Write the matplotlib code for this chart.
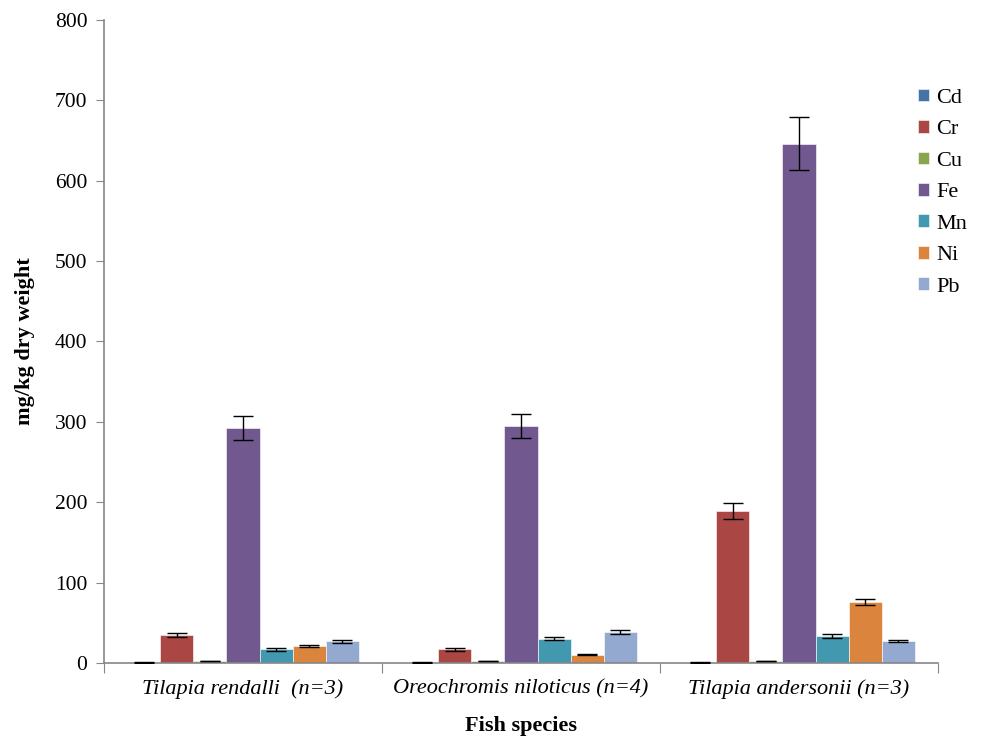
import numpy as np
import matplotlib
matplotlib.use('Agg')
import matplotlib.pyplot as plt

# mean metal concentrations (mg/kg dry weight) and standard errors per species
species = ['Tilapia rendalli  (n=3)', 'Oreochromis niloticus (n=4)', 'Tilapia andersonii (n=3)']
metals = ['Cd', 'Cr', 'Cu', 'Fe', 'Mn', 'Ni', 'Pb']
means = {
    'Cd': [0.5, 0.5, 0.5],
    'Cr': [35, 17, 189],
    'Cu': [2.5, 2.5, 2.5],
    'Fe': [292, 295, 646],
    'Mn': [17, 30, 33.5],
    'Ni': [21.5, 10.5, 76],
    'Pb': [27, 38.5, 27.5],
}
errors = {
    'Cd': [0.3, 0.3, 0.3],
    'Cr': [2.5, 1.5, 10],
    'Cu': [0.5, 0.5, 0.5],
    'Fe': [15, 15, 33],
    'Mn': [1.5, 2, 2],
    'Ni': [1.5, 0.8, 4],
    'Pb': [2, 2.5, 1.5],
}
colors = ['#4572A7', '#AA4643', '#89A54E', '#71588F', '#4198AF', '#DB843D', '#93A9CF']

plt.rcParams['font.family'] = ['Liberation Serif', 'DejaVu Serif']

fig = plt.figure(figsize=(9.82, 7.37), dpi=100)
ax = fig.add_axes([0.1059, 0.1004, 0.8493, 0.8725])

x = np.arange(len(species))
width = 1 / (len(metals) + 1.42)
for k, m in enumerate(metals):
    pos = x + (k - (len(metals) - 1) / 2) * width
    ax.bar(pos, means[m], width, color=colors[k], edgecolor='white', linewidth=0.4,
           label=m, zorder=2)
    ax.errorbar(pos, means[m], yerr=errors[m], fmt='none', ecolor='black',
                elinewidth=1, capsize=7, capthick=1, zorder=3)

ax.set_xlim(-0.5, len(species) - 0.5)
ax.set_ylim(0, 800)
ax.set_yticks(np.arange(0, 801, 100))
ax.tick_params(axis='y', labelsize=15.5, length=6, color='#868686', pad=6)

# category boundary ticks, labels centred under each group
ax.set_xticks(np.arange(-0.5, len(species), 1))
ax.set_xticklabels([])
ax.set_xticks(x, minor=True)
ax.set_xticklabels(species, minor=True, fontsize=16, style='italic')
ax.tick_params(axis='x', which='major', length=7, color='#868686')
ax.tick_params(axis='x', which='minor', length=0, pad=12)

for side in ['top', 'right']:
    ax.spines[side].set_visible(False)
for side in ['left', 'bottom']:
    ax.spines[side].set_color('#868686')
    ax.spines[side].set_linewidth(1.2)

ax.set_ylabel('mg/kg dry weight', fontsize=16, fontweight='bold', labelpad=14)
ax.set_xlabel('Fish species', fontsize=16, fontweight='bold', labelpad=12)

ax.legend(loc='upper left', bbox_to_anchor=(0.965, 0.907), frameon=False,
          fontsize=16, handlelength=0.5, handleheight=0.5, handletextpad=0.35,
          labelspacing=0.55, borderaxespad=0)

fig.savefig('out.png', dpi=100)
